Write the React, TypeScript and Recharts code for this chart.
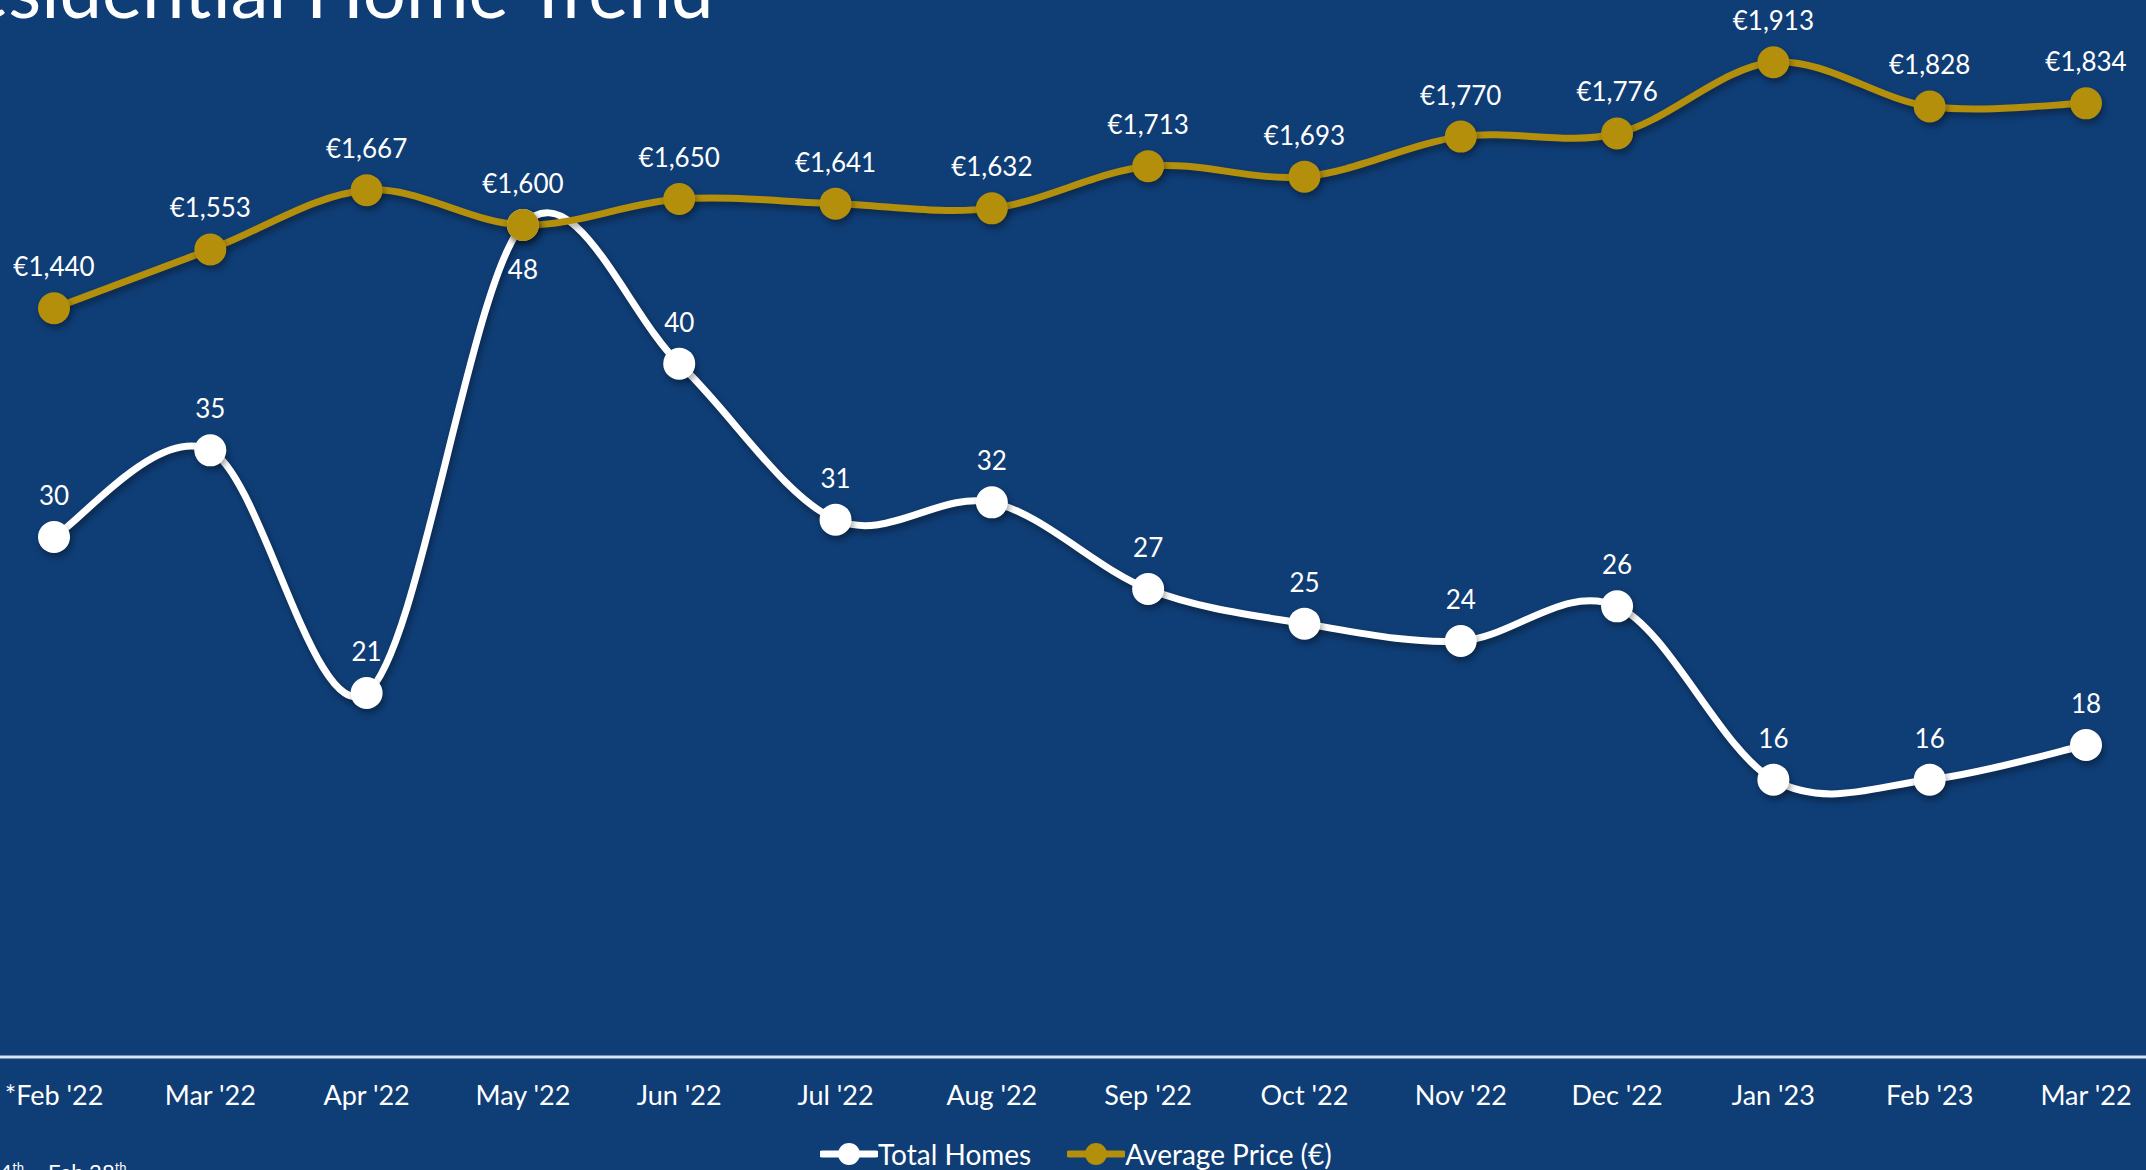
import { LineChart, Line, XAxis, YAxis, LabelList } from 'recharts';

const months = ["*Feb '22", "Mar '22", "Apr '22", "May '22", "Jun '22", "Jul '22", "Aug '22", "Sep '22", "Oct '22", "Nov '22", "Dec '22", "Jan '23", "Feb '23", "Mar '22"];
const totalHomes = [30, 35, 21, 48, 40, 31, 32, 27, 25, 24, 26, 16, 16, 18];
const avgPrice = [1440, 1553, 1667, 1600, 1650, 1641, 1632, 1713, 1693, 1770, 1776, 1913, 1828, 1834];

const data = months.map((m, i) => ({ idx: i, month: m, homes: totalHomes[i], price: avgPrice[i] }));

const BG = '#0f3d75';
const GOLD = '#b38f0b';
const FONT = 'Lato, "Open Sans", sans-serif';

// excel-style smoothed line (catmull-rom through every point)
const excelSmooth = (context: any) => {
  let xs: number[] = [];
  let ys: number[] = [];
  return {
    areaStart() {},
    areaEnd() {},
    lineStart() {
      xs = [];
      ys = [];
    },
    point(x: number, y: number) {
      xs.push(+x);
      ys.push(+y);
    },
    lineEnd() {
      const n = xs.length;
      if (!n) return;
      context.moveTo(xs[0], ys[0]);
      for (let i = 0; i < n - 1; i++) {
        const a = Math.max(i - 1, 0);
        const d = Math.min(i + 2, n - 1);
        const c1x = xs[i] + (xs[i + 1] - xs[a]) / 6;
        const c1y = ys[i] + (ys[i + 1] - ys[a]) / 6;
        const c2x = xs[i + 1] - (xs[d] - xs[i]) / 6;
        const c2y = ys[i + 1] - (ys[d] - ys[i]) / 6;
        context.bezierCurveTo(c1x, c1y, c2x, c2y, xs[i + 1], ys[i + 1]);
      }
    },
  };
};

const homesLabel = (props: any) => {
  const { x, y, value, index } = props;
  const below = index === 3;
  return (
    <text
      x={x}
      y={below ? y + 54 : y - 32}
      textAnchor="middle"
      fill="#fff"
      fontSize={26}
      fontFamily={FONT}
    >
      {value}
    </text>
  );
};

const priceLabel = (props: any) => {
  const { x, y, value } = props;
  return (
    <text x={x} y={y - 32} textAnchor="middle" fill="#fff" fontSize={26} fontFamily={FONT}>
      {'€' + Number(value).toLocaleString('en-US')}
    </text>
  );
};

const LegendIcon = ({ color }: { color: string }) => (
  <svg width={58} height={24} style={{ display: 'block' }}>
    <line x1={2} y1={12} x2={56} y2={12} stroke={color} strokeWidth={7} strokeLinecap="round" />
    <circle cx={29} cy={12} r={11} fill={color} />
  </svg>
);

export default function App() {
  return (
    <div
      style={{
        position: 'absolute',
        left: 0,
        top: 0,
        width: 2146,
        height: 1170,
        overflow: 'hidden',
        background: BG,
        fontFamily: FONT,
      }}
    >
      <style>{`.recharts-line-curve, .recharts-line-dots { filter: drop-shadow(2px 4px 3px rgba(0,0,0,0.35)); }`}</style>
      <div
        style={{
          position: 'absolute',
          left: -77,
          top: -61,
          fontSize: 76,
          color: '#fff',
          whiteSpace: 'nowrap',
          lineHeight: '100px',
        }}
      >
        Residential Home Trend
      </div>
      <div style={{ position: 'absolute', left: -24, top: 0 }}>
        <LineChart
          width={2188}
          height={1170}
          data={data}
          margin={{ top: 17, right: 0, left: 0, bottom: 0 }}
        >
          <XAxis
            dataKey="idx"
            type="category"
            interval={0}
            height={113}
            padding={{ left: 78, right: 78 }}
            axisLine={{ stroke: '#d6e4f5', strokeWidth: 3 }}
            tickLine={false}
            tickMargin={23}
            tickFormatter={(v: number) => months[v]}
            tick={{ fill: '#fff', fontSize: 27, fontFamily: FONT }}
          />
          <YAxis yAxisId="homes" domain={[0, 60]} hide />
          <YAxis yAxisId="price" orientation="right" domain={[0, 2000]} hide />
          <Line
            yAxisId="homes"
            dataKey="homes"
            name="Total Homes"
            type={excelSmooth as any}
            stroke="#fff"
            strokeWidth={7}
            dot={{ r: 16, fill: '#fff', stroke: 'none' }}
            activeDot={false}
            isAnimationActive={false}
          >
            <LabelList dataKey="homes" content={homesLabel} />
          </Line>
          <Line
            yAxisId="price"
            dataKey="price"
            name="Average Price (€)"
            type={excelSmooth as any}
            stroke={GOLD}
            strokeWidth={7}
            dot={{ r: 16, fill: GOLD, stroke: 'none' }}
            activeDot={false}
            isAnimationActive={false}
          >
            <LabelList dataKey="price" content={priceLabel} />
          </Line>
        </LineChart>
      </div>
      <div
        style={{
          position: 'absolute',
          left: 820,
          top: 1137,
          display: 'flex',
          alignItems: 'center',
          color: '#fff',
          fontSize: 28,
          whiteSpace: 'nowrap',
        }}
      >
        <LegendIcon color="#fff" />
        <span style={{ marginRight: 36 }}>Total Homes</span>
        <LegendIcon color={GOLD} />
        <span>Average Price (€)</span>
      </div>
      <div
        style={{
          position: 'absolute',
          left: -10,
          top: 1158,
          color: '#fff',
          fontSize: 22,
          whiteSpace: 'nowrap',
        }}
      >
        *4<sup style={{ fontSize: 13 }}>th</sup> – Feb 28<sup style={{ fontSize: 13 }}>th</sup>
      </div>
    </div>
  );
}
